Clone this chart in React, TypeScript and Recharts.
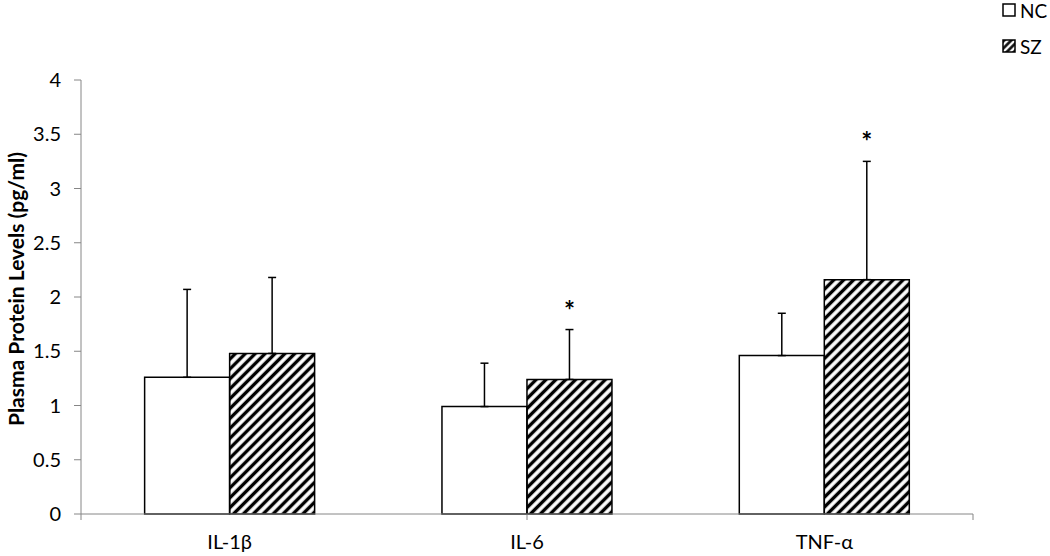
import React from "react";
import { BarChart, Bar, XAxis, YAxis, ErrorBar, LabelList } from "recharts";

const categories = ["IL-1β", "IL-6", "TNF-α"];
const ncValues = [1.26, 0.99, 1.46];
const szValues = [1.48, 1.24, 2.16];
const ncErrors = [0.81, 0.4, 0.39];
const szErrors = [0.7, 0.46, 1.09];
const significance = ["", "*", "*"];
const yTicks = [0, 0.5, 1, 1.5, 2, 2.5, 3, 3.5, 4];
const edgeTicks = [0, 1, 2, 3];

const data = categories.map((name, i) => ({
  name,
  nc: ncValues[i],
  sz: szValues[i],
  ncErr: [0, ncErrors[i]],
  szErr: [0, szErrors[i]],
  sig: significance[i],
}));

const FONT = "Lato, 'Noto Sans', sans-serif";
const AXIS = "#868686";

function YTitle(props: any) {
  const { x, y, height } = props.viewBox;
  const cx = x + 15;
  const cy = y + height / 2 - 8;
  return (
    <text
      x={cx}
      y={cy}
      transform={`rotate(-90 ${cx} ${cy})`}
      textAnchor="middle"
      dominantBaseline="central"
      fontFamily={FONT}
      fontWeight="bold"
      fontSize={21}
      fill="#000"
    >
      Plasma Protein Levels (pg/ml)
    </text>
  );
}

function Star(props: any) {
  const { x, y, width, height, index, value } = props;
  if (!value) return null;
  const pxPerUnit = height / szValues[index];
  const errTop = y - szErrors[index] * pxPerUnit;
  return (
    <text
      x={x + width / 2}
      y={errTop - 10}
      textAnchor="middle"
      fontFamily={FONT}
      fontWeight="bold"
      fontSize={26}
      fill="#000"
    >
      {value}
    </text>
  );
}

function Legend() {
  const row = (label: string, fill: string) => (
    <div style={{ display: "flex", alignItems: "center", height: 36 }}>
      <svg width={14} height={14} style={{ marginRight: 4 }}>
        <rect x={1} y={1} width={12} height={12} fill={fill} stroke="#000" strokeWidth={1.5} />
      </svg>
      <span style={{ fontFamily: FONT, fontSize: 19, color: "#000" }}>{label}</span>
    </div>
  );
  return (
    <div style={{ position: "absolute", left: 1002, top: -8 }}>
      {row("NC", "#fff")}
      {row("SZ", "url(#hatchLegend)")}
    </div>
  );
}

export default function App() {
  return (
    <div style={{ position: "absolute", left: 0, top: 0, width: 1050, height: 556, background: "#fff" }}>
      <svg width={0} height={0} style={{ position: "absolute" }}>
        <defs>
          <pattern id="hatchLegend" width={5} height={5} patternUnits="userSpaceOnUse" patternTransform="rotate(45)">
            <line x1={2.5} y1={0} x2={2.5} y2={5} stroke="#000" strokeWidth={2.5} />
          </pattern>
        </defs>
      </svg>
      <BarChart
        width={1050}
        height={556}
        data={data}
        margin={{ top: 80, right: 77, bottom: 0, left: 0 }}
        barCategoryGap="21.4%"
        barGap={0}
      >
        <defs>
          <pattern id="hatch" width={7} height={7} patternUnits="userSpaceOnUse" patternTransform="rotate(45)">
            <line x1={3.5} y1={0} x2={3.5} y2={7} stroke="#000" strokeWidth={3.4} />
          </pattern>
        </defs>
        <XAxis
          xAxisId="a"
          type="number"
          domain={[0, 3]}
          ticks={edgeTicks}
          allowDataOverflow
          tickFormatter={() => ""}
          height={8}
          stroke={AXIS}
          tickSize={6}
        />
        <XAxis
          xAxisId="b"
          dataKey="name"
          axisLine={false}
          tickLine={false}
          height={34}
          tickMargin={7}
          tick={{ fontSize: 20, fill: "#000", fontFamily: FONT }}
        />
        <YAxis
          domain={[0, 4]}
          ticks={yTicks}
          width={81}
          stroke={AXIS}
          tickSize={7}
          tickMargin={13}
          tick={{ fontSize: 20, fill: "#000", fontFamily: FONT }}
          label={{ content: YTitle }}
        />
        <Bar xAxisId="b" dataKey="nc" fill="#fff" stroke="#000" strokeWidth={1.5} isAnimationActive={false}>
          <ErrorBar dataKey="ncErr" width={4} stroke="#000" strokeWidth={1.5} direction="y" />
        </Bar>
        <Bar xAxisId="b" dataKey="sz" fill="url(#hatch)" stroke="#000" strokeWidth={1.5} isAnimationActive={false}>
          <ErrorBar dataKey="szErr" width={4} stroke="#000" strokeWidth={1.5} direction="y" />
          <LabelList dataKey="sig" content={Star} />
        </Bar>
      </BarChart>
      <Legend />
    </div>
  );
}
